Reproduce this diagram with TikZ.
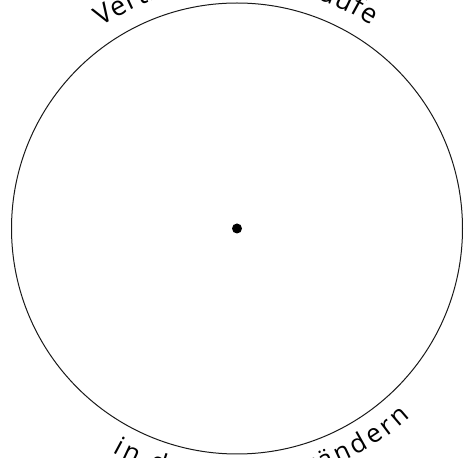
\documentclass[tikz,border=0pt]{standalone}
\usepackage{fontspec}
\setmainfont{Open Sans}
\usetikzlibrary{decorations.text,calc}
\tikzset{
  ringline/.style={draw=black!90, line width=1pt},
  centredot/.style={fill=black},
  arctextfit/.style={decorate, decoration={text along path, text={#1}, text align={fit to path}}}
}
\begin{document}
\begin{tikzpicture}
\useasboundingbox (0,0) rectangle (472pt,458pt);
\clip (0,0) rectangle (472pt,458pt);
\coordinate (C) at (237pt,229.5pt);
\draw[ringline] (C) circle[radius=225.5pt];
\fill[centredot] (C) circle[radius=5pt];
\fontsize{27pt}{29pt}\selectfont
\path[arctextfit={Vertrieb der Verkäufe}]
  ($(C)+(124:243pt)$) arc[start angle=124, end angle=56.6, radius=243pt];
\fontsize{26pt}{28pt}\selectfont
\path[arctextfit={in der Zeit verändern}]
  ($(C)+(241:256pt)$) arc[start angle=241, end angle=312.5, radius=256pt];
\end{tikzpicture}
\end{document}
